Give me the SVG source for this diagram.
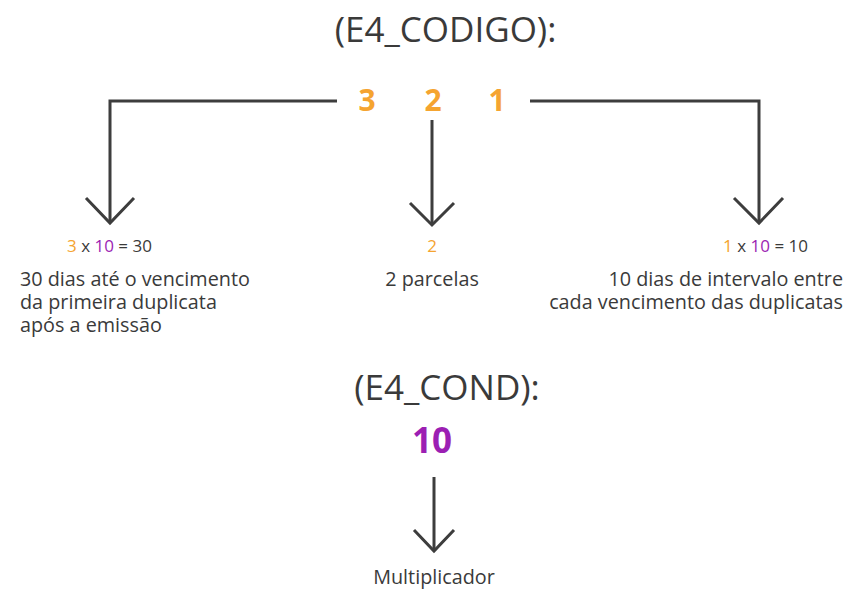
<svg xmlns="http://www.w3.org/2000/svg" width="848" height="589" viewBox="0 0 848 589">
<style>
text{font-family:"Open Sans","Noto Sans","DejaVu Sans",sans-serif;fill:#3a3a3a}
.title{font-size:35px}
.num{font-size:30px;font-weight:bold;fill:#f5a430}
.big{font-size:35px;font-weight:bold;fill:#9c1fb3}
.lbl{font-size:19.8px}
.eq{font-size:17px}
.o{fill:#f5a430}
.p{fill:#9c1fb3}
.ln{fill:none;stroke:#3d3d3d;stroke-width:3}
.ah{fill:none;stroke:#3d3d3d;stroke-width:3;stroke-linejoin:miter}
</style>
<rect width="848" height="589" fill="#ffffff"/>
<g id="title-codigo"><text class="title" x="445.5" y="42" text-anchor="middle">(E4_CODIGO):</text></g>
<g id="digits">
<text class="num" x="367" y="111" text-anchor="middle">3</text>
<text class="num" x="433" y="111" text-anchor="middle">2</text>
<text class="num" x="497" y="111" text-anchor="middle">1</text>
</g>
<g id="connectors">
<polyline class="ln" points="337,101 110,101 110,222"/>
<polyline class="ah" points="86,198 110,223 134,198"/>
<polyline class="ln" points="530,101 759,101 759,222"/>
<polyline class="ah" points="734,198 759,223 783,198"/>
<line class="ln" x1="432" y1="120" x2="432" y2="224"/>
<polyline class="ah" points="410,203 432,225 454,203"/>
<line class="ln" x1="434" y1="477" x2="434" y2="550"/>
<polyline class="ah" points="414,530 434,551 454,530"/>
</g>
<g id="node-left">
<text class="eq" x="67" y="252"><tspan class="o">3</tspan> x <tspan class="p">10</tspan> = 30</text>
<text class="lbl" x="20" y="286">30 dias até o vencimento</text>
<text class="lbl" x="20" y="309">da primeira duplicata</text>
<text class="lbl" x="20" y="332">após a emissão</text>
</g>
<g id="node-middle">
<text class="eq o" x="432" y="252" text-anchor="middle">2</text>
<text class="lbl" x="432" y="286" text-anchor="middle">2 parcelas</text>
</g>
<g id="node-right">
<text class="eq" x="808" y="252" text-anchor="end"><tspan class="o">1</tspan> x <tspan class="p">10</tspan> = 10</text>
<text class="lbl" x="843" y="286" text-anchor="end">10 dias de intervalo entre</text>
<text class="lbl" x="843" y="309" text-anchor="end">cada vencimento das duplicatas</text>
</g>
<g id="title-cond"><text class="title" x="447" y="400" text-anchor="middle">(E4_COND):</text></g>
<g id="multiplier"><text class="big" x="432" y="453" text-anchor="middle">10</text></g>
<g id="node-mult"><text class="lbl" x="434" y="584" text-anchor="middle">Multiplicador</text></g>
</svg>
